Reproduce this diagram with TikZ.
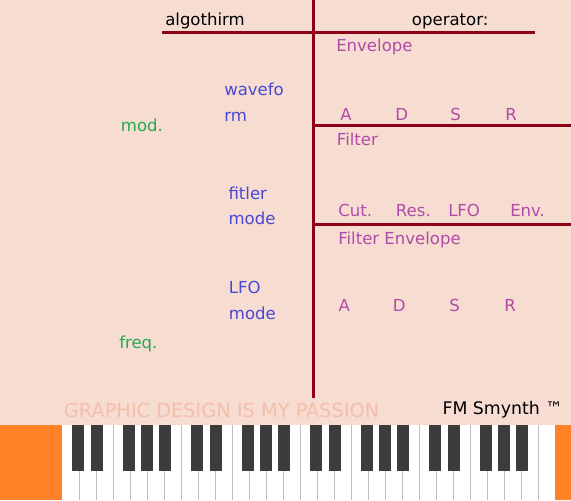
\documentclass[tikz,border=0pt]{standalone}
\usepackage{fontspec}
\setmainfont{DejaVu Sans}
\definecolor{panelbg}{RGB}{247,220,210}
\definecolor{maroon}{RGB}{140,0,22}
\definecolor{plum}{RGB}{176,76,168}
\definecolor{modeblue}{RGB}{72,72,212}
\definecolor{knobgreen}{RGB}{34,170,80}
\definecolor{caseorange}{RGB}{255,130,38}
\definecolor{blackkey}{RGB}{60,60,60}
\definecolor{keyline}{RGB}{190,190,190}
\definecolor{passion}{RGB}{244,190,170}
\begin{document}
\begin{tikzpicture}
  [x=0.75pt,y=-0.75pt,every node/.style={inner sep=0pt,anchor=base west,font=\fontsize{12.4}{14}\selectfont}]
  \tikzstyle{divider} = [draw=maroon,line width=2.25pt]
  \tikzstyle{param} = [text=plum]
  \tikzstyle{mode} = [text=modeblue]
  \tikzstyle{knob} = [text=knobgreen]
  \fill[panelbg] (0,0) rectangle (571,500);
  \useasboundingbox (0,0) rectangle (571,500);
  % keyboard
  \fill[caseorange] (0,424.5) rectangle (571,500);
  \fill[white] (62,424.5) rectangle (554.7,500);
  \foreach \k in {1,...,28}
   \draw[keyline,line width=0.75pt] (62+17*\k,424.5) -- (62+17*\k,500);
  \foreach \oct in {0,...,3}
   \foreach \sep /\shift in {1/-1,2/1,4/-1,5/0,6/1}
    \fill[blackkey] (62+17*\oct*7+17*\sep+\shift-6,424.5) rectangle +(12,46.5);
  % dividers
  \coordinate (spine top) at (313.5,0);
  \coordinate (spine end) at (313.5,398);
  \coordinate (head l) at (162,32.5);
  \coordinate (head r) at (535,32.5);
  \coordinate (env l) at (313.5,125.3);
  \coordinate (env r) at (571,125.3);
  \coordinate (filt l) at (313.5,224);
  \coordinate (filt r) at (571,224);
  \draw[divider] (head l) -- (head r);
  \draw[divider] (env l) -- (env r);
  \draw[divider] (filt l) -- (filt r);
  \draw[divider] (spine top) -- (spine end);
  % headings
  \node (algo) at (165,25) {algothirm};
  \node (oper) at (411.7,25) {operator:};
  % operator side
  \node[param] (env) at (336,51.7) {Envelope};
  \node[param] (filt) at (336.7,145.5) {Filter};
  \node[param] (fenv) at (338,244.3) {Filter Envelope};
  \foreach \name /\x /\lbl in {ea/340/A,ed/395/D,es/450/S,er/505/R}
   \node[param] (\name) at (\x,120.7) {\lbl};
  \foreach \name /\x /\lbl in {cut/338/Cut.,res/395.7/Res.,lfo/448/LFO,fe/510/Env.}
   \node[param] (\name) at (\x,216) {\lbl};
  \foreach \name /\x /\lbl in {fa/338.3/A,fd/392.7/D,fs/449/S,fr/504/R}
   \node[param] (\name) at (\x,311) {\lbl};
  % algorithm side
  \node[mode] (wave1) at (224,95.7) {wavefo};
  \node[mode] (wave2) at (224,121.7) {rm};
  \node[mode] (fmode1) at (228.3,199) {fitler};
  \node[mode] (fmode2) at (228.3,224.3) {mode};
  \node[mode] (lmode1) at (228.7,293.3) {LFO};
  \node[mode] (lmode2) at (228.7,319) {mode};
  \node[knob] (mod) at (120.7,131.7) {mod.};
  \node[knob] (freq) at (119,348) {freq.};
  % footer
  \node[text=passion,font=\fontsize{14.5}{17}\selectfont] (slogan) at (63.7,417.3) {GRAPHIC DESIGN IS MY PASSION};
  \node[font=\fontsize{13}{15}\selectfont] (brand) at (442.3,414) {FM Smynth ™};
\end{tikzpicture}
\end{document}
